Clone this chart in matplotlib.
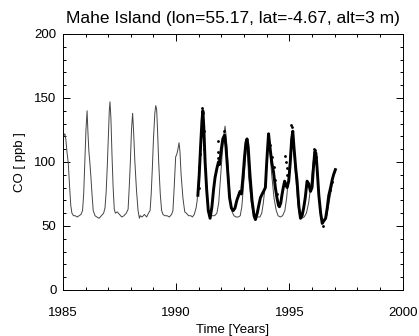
import matplotlib
matplotlib.use("Agg")
import matplotlib.pyplot as plt
from matplotlib.ticker import MultipleLocator

plt.rcParams["font.family"] = ["Liberation Sans", "DejaVu Sans"]

# model (thin line)
model_t = [1985.00, 1985.05, 1985.09, 1985.13, 1985.18, 1985.24, 1985.30, 1985.35, 1985.40,
           1985.47, 1985.55, 1985.63, 1985.72, 1985.80, 1985.87, 1985.92, 1985.97, 1986.02, 1986.07,
           1986.11, 1986.15, 1986.19, 1986.24, 1986.29, 1986.34, 1986.42, 1986.50, 1986.60, 1986.70,
           1986.80, 1986.86, 1986.91, 1986.96, 1987.01, 1987.05, 1987.08, 1987.12, 1987.17, 1987.22,
           1987.27, 1987.32, 1987.40, 1987.50, 1987.60, 1987.70, 1987.80, 1987.88, 1987.93, 1987.98,
           1988.03, 1988.08, 1988.12, 1988.18, 1988.25, 1988.32, 1988.38, 1988.42, 1988.50, 1988.60,
           1988.70, 1988.78, 1988.85, 1988.90, 1988.95, 1989.00, 1989.06, 1989.10, 1989.14, 1989.18,
           1989.23, 1989.30, 1989.36, 1989.42, 1989.50, 1989.60, 1989.70, 1989.80, 1989.86, 1989.92,
           1989.98, 1990.03, 1990.08, 1990.13, 1990.17, 1990.22, 1990.30, 1990.38, 1990.45, 1990.55,
           1990.65, 1990.72, 1990.80, 1990.88, 1990.93, 1991.00, 1991.08, 1991.15, 1991.20, 1991.27,
           1991.35, 1991.42, 1991.50, 1991.60, 1991.70, 1991.80, 1991.88, 1991.95, 1992.03, 1992.10,
           1992.16, 1992.22, 1992.30, 1992.38, 1992.45, 1992.55, 1992.65, 1992.75, 1992.83, 1992.90,
           1992.97, 1993.05, 1993.12, 1993.17, 1993.20, 1993.25, 1993.32, 1993.40, 1993.50, 1993.60,
           1993.70, 1993.78, 1993.85, 1993.95, 1994.02, 1994.08, 1994.14, 1994.22, 1994.32, 1994.42,
           1994.50, 1994.60, 1994.70, 1994.80, 1994.88, 1994.97, 1995.05, 1995.12, 1995.18, 1995.27,
           1995.37, 1995.45, 1995.55, 1995.65, 1995.75, 1995.85, 1995.95, 1996.05, 1996.12, 1996.18,
           1996.27, 1996.37, 1996.45, 1996.55, 1996.65, 1996.75, 1996.85, 1996.92]
model_co = [118, 121, 122, 118, 108, 99, 80, 66, 60,
            58, 58, 57, 58, 59, 62, 75, 100, 125, 140,
            122, 108, 100, 88, 74, 62, 58, 57, 56, 58,
            60, 64, 76, 96, 120, 140, 147, 135, 105, 80,
            63, 60, 61, 59, 57, 58, 60, 63, 80, 100,
            125, 138, 125, 100, 78, 62, 56, 58, 57, 59,
            57, 60, 62, 75, 95, 118, 138, 144, 141, 125,
            100, 75, 62, 59, 58, 58, 57, 59, 62, 82,
            104, 106, 110, 115, 108, 90, 72, 61, 60, 58,
            58, 57, 59, 64, 70, 90, 115, 130, 128, 105,
            80, 62, 58, 58, 58, 60, 68, 85, 105, 120,
            128, 118, 95, 72, 62, 58, 57, 57, 58, 65,
            80, 100, 115, 100, 88, 80, 68, 60, 57, 57,
            57, 60, 68, 85, 105, 118, 108, 90, 72, 62,
            58, 57, 58, 62, 72, 90, 110, 122, 112, 90,
            68, 58, 56, 57, 60, 68, 82, 100, 108, 103,
            82, 62, 55, 54, 58, 68, 78, 85]

# observations, smoothed (thick line)
obs_t = [1990.96, 1991.02, 1991.08, 1991.14, 1991.18, 1991.22, 1991.28, 1991.35, 1991.42,
         1991.50, 1991.58, 1991.65, 1991.72, 1991.80, 1991.87, 1991.92, 1991.98, 1992.06, 1992.14,
         1992.20, 1992.28, 1992.36, 1992.44, 1992.52, 1992.60, 1992.68, 1992.76, 1992.82, 1992.88,
         1992.95, 1993.02, 1993.08, 1993.13, 1993.18, 1993.26, 1993.35, 1993.44, 1993.50, 1993.58,
         1993.66, 1993.72, 1993.80, 1993.86, 1993.94, 1994.00, 1994.08, 1994.14, 1994.22, 1994.30,
         1994.38, 1994.45, 1994.52, 1994.56, 1994.62, 1994.67, 1994.73, 1994.79, 1994.85, 1994.90,
         1994.97, 1995.04, 1995.10, 1995.15, 1995.20, 1995.28, 1995.34, 1995.42, 1995.49, 1995.56,
         1995.63, 1995.70, 1995.78, 1995.85, 1995.93, 1996.00, 1996.06, 1996.12, 1996.17, 1996.22,
         1996.30, 1996.38, 1996.45, 1996.52, 1996.60, 1996.67, 1996.74, 1996.82, 1996.89, 1996.95,
         1997.03]
obs_co = [74, 90, 112, 132, 140, 128, 100, 78, 62,
          56, 65, 78, 88, 95, 100, 98, 108, 118, 121,
          112, 92, 72, 64, 62, 64, 70, 74, 77, 75,
          88, 104, 115, 118, 112, 90, 70, 58, 55, 60,
          67, 72, 75, 77, 80, 100, 122, 112, 100, 92,
          80, 72, 66, 65, 68, 74, 80, 85, 82, 80,
          85, 100, 118, 124, 112, 95, 85, 65, 56, 58,
          64, 72, 85, 83, 77, 80, 95, 108, 107, 96,
          74, 60, 52, 54, 56, 64, 74, 80, 86, 90,
          94]

# individual samples (dots)
pts_t = [1991.00, 1991.03, 1991.06, 1991.10, 1991.13, 1991.16, 1991.18, 1991.21, 1991.25,
         1991.83, 1991.85, 1991.87, 1992.12, 1994.16, 1994.23, 1994.30, 1994.38, 1994.45, 1994.53,
         1994.82, 1994.85, 1994.88, 1994.91, 1995.09, 1995.12, 1996.10, 1996.14, 1996.18,
         1996.47, 1996.78, 1996.86]
pts_co = [80, 96, 106, 120, 132, 142, 138, 124, 110,
          103, 108, 116, 124, 113, 104, 96, 86, 75, 68,
          105, 100, 95, 90, 129, 127, 110, 109, 104,
          50, 78, 84]

fig = plt.figure(figsize=(4.19, 3.36), dpi=100)
ax = fig.add_axes([0.150, 0.137, 0.811, 0.762])

ax.plot(model_t, model_co, color="#444444", lw=0.7)
ax.plot(obs_t, obs_co, color="black", lw=2.1)
ax.plot(pts_t, pts_co, ".", color="black", ms=2.0)

ax.set_xlim(1985, 2000)
ax.set_ylim(0, 200)
ax.xaxis.set_major_locator(MultipleLocator(5))
ax.xaxis.set_minor_locator(MultipleLocator(1))
ax.yaxis.set_major_locator(MultipleLocator(50))
ax.yaxis.set_minor_locator(MultipleLocator(10))
ax.tick_params(which="both", direction="in", top=True, right=True, labelsize=9.5, width=0.7)
ax.tick_params(which="major", length=5)
ax.tick_params(which="minor", length=2.5)
ax.tick_params(axis="x", pad=12)
ax.tick_params(axis="y", pad=4.5)
for s in ax.spines.values():
    s.set_linewidth(0.7)

ax.set_title("Mahe Island (lon=55.17, lat=-4.67, alt=3 m)", fontsize=12.5, pad=8)
ax.set_xlabel("Time [Years]", fontsize=9.5, labelpad=4)
ax.set_ylabel("CO [ ppb ]", fontsize=9.5, labelpad=6)

fig.savefig("out.png", dpi=100)
